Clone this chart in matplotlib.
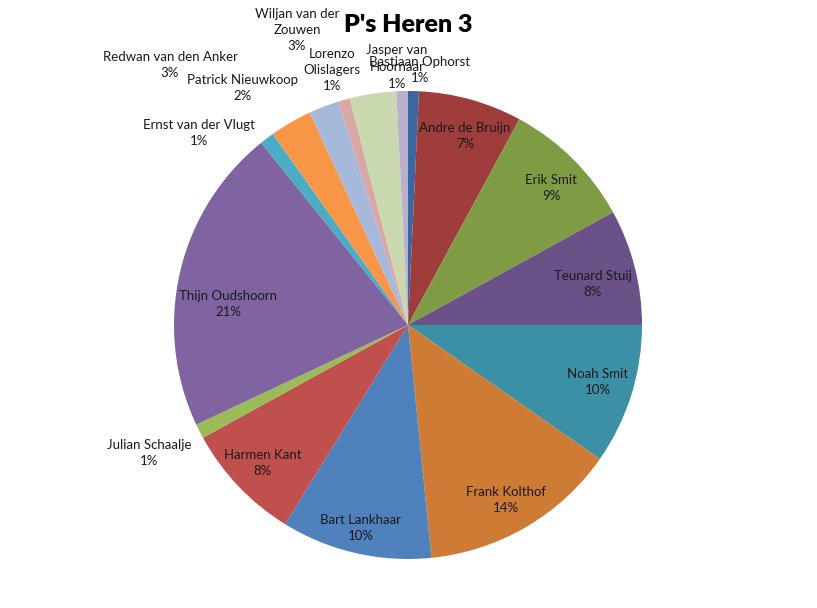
import matplotlib.pyplot as plt

plt.rcParams['font.family'] = ['Lato', 'DejaVu Sans']

# slices in clockwise order, starting at 12 o'clock
names = ['Bastiaan Ophorst', 'Andre de Bruijn', 'Erik Smit', 'Teunard Stuij',
         'Noah Smit', 'Frank Kolthof', 'Bart Lankhaar', 'Harmen Kant',
         'Julian Schaalje', 'Thijn Oudshoorn', 'Ernst van der Vlugt',
         'Redwan van den Anker', 'Patrick Nieuwkoop', 'Lorenzo\nOlislagers',
         'Wiljan van der\nZouwen', 'Jasper van\nHoornaar']
share = [0.75, 7.15, 9.1, 8.0, 9.7, 13.7, 10.4, 8.2,
         1.0, 21.2, 1.0, 2.9, 2.1, 0.8, 3.2, 0.8]
colors = ['#3A67A0', '#9E3D3B', '#7F9C45', '#6A5188', '#3C90A6', '#CD7B35',
          '#4F81BD', '#C0504D', '#9BBB59', '#8064A2', '#4BACC6', '#F79646',
          '#A7B9DA', '#D9A7A6', '#C9D8AE', '#BAB0CC']

# label block centres in pixels (layout only)
label_pos = [(420, 70), (465, 136), (551, 188), (593, 284), (598, 382),
             (506, 500), (361, 528), (263, 463), (149, 453), (228, 304),
             (199, 133), (170, 65), (243, 88), (332, 70), (297, 30), (397, 67)]

W, H = 817, 608
fig = plt.figure(figsize=(W / 100, H / 100), dpi=100)
ax = fig.add_axes([0, 0, 1, 1])

ax.pie(share, colors=colors, center=(408, 325), radius=234,
       startangle=-90, counterclock=True,
       wedgeprops=dict(linewidth=0))

total = sum(share)
for n, v, (x, y) in zip(names, share, label_pos):
    ax.text(x, y, '%s\n%d%%' % (n, round(v / total * 100)),
            ha='center', va='center', fontsize=9.5, color='#1a1a1a',
            linespacing=1.45)

ax.text(408, 25, "P's Heren 3", ha='center', va='center',
        fontsize=18, fontweight='heavy', color='black')

ax.set_xlim(0, W)
ax.set_ylim(H, 0)
ax.set_aspect('auto')
ax.axis('off')

fig.savefig('out.png', dpi=100)
